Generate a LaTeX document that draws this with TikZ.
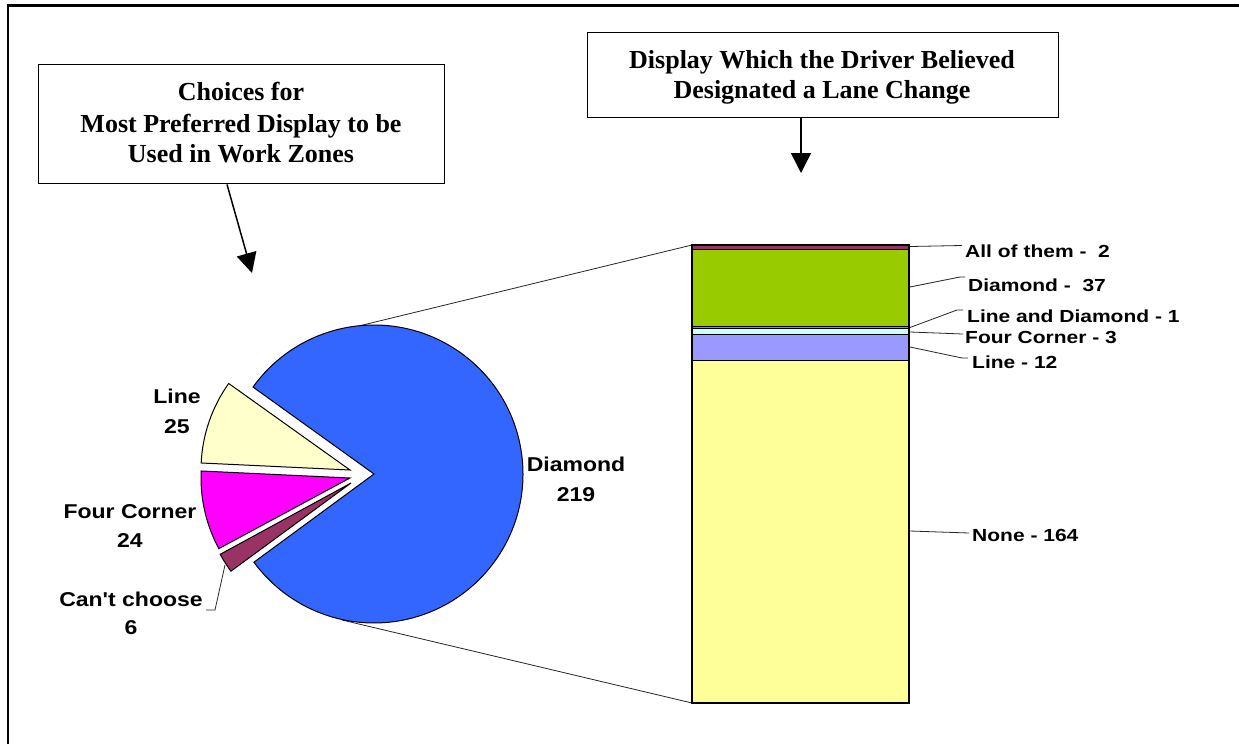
\documentclass[tikz,border=0pt]{standalone}
\usepackage{fontspec}
\setmainfont{Liberation Serif}
\setsansfont{Liberation Sans}
\usetikzlibrary{arrows.meta}
\definecolor{pieblue}{HTML}{3366FF}
\definecolor{pieyellow}{HTML}{FFFFCC}
\definecolor{piemagenta}{HTML}{FF00FF}
\definecolor{pieplum}{HTML}{993366}
\definecolor{bargreen}{HTML}{99CC00}
\definecolor{barcoral}{HTML}{E07070}
\definecolor{barcyan}{HTML}{CCFFFF}
\definecolor{barlilac}{HTML}{9999FF}
\definecolor{barpale}{HTML}{FFFF99}
\newcommand{\pl}[1]{\scalebox{1.15}[1]{#1}}
\newcommand{\bl}[1]{\scalebox{1.2}[1]{#1}}
\begin{document}
\begin{tikzpicture}[x=1pt,y=-1pt,
  titlebox/.style={draw, line width=1.4pt, fill=white, inner sep=0pt, anchor=north west},
  titletext/.style={font=\fontsize{26}{31}\selectfont\bfseries, anchor=base, inner sep=0pt},
  pielabel/.style={font=\fontsize{20}{24}\selectfont\sffamily\bfseries, anchor=base, inner sep=0pt},
  barlabel/.style={font=\fontsize{17.5}{21}\selectfont\sffamily\bfseries, anchor=base west, inner sep=0pt},
  leader/.style={line width=0.8pt, draw=black!85},
  slice/.style={draw=black, line width=1pt},
  seg/.style={draw=black, line width=1pt},
  callout/.style={line width=1.5pt, -{Triangle[length=20pt,width=20pt]}}]
\useasboundingbox (0,0) rectangle (1239,744);
\fill[white] (0,0) rectangle (1239,744);
% outer frame
\draw[line width=2.5pt] (8,744) -- (8,5.7) -- (1239,5.7);

% title boxes
\node[titlebox, minimum width=406pt, minimum height=119pt] (lbox) at (38,64) {};
\node[titletext] (lt1) at (241,100) {Choices for};
\node[titletext] (lt2) at (241,132) {Most Preferred Display to be};
\node[titletext] (lt3) at (241,162) {Used in Work Zones};
\node[titlebox, minimum width=471pt, minimum height=85pt] (rbox) at (587,32) {};
\node[titletext] (rt1) at (822,68) {Display Which the Driver Believed};
\node[titletext] (rt2) at (822,98) {Designated a Lane Change};

\coordinate (ltip) at (252,273);
\coordinate (rtip) at (801,173);
\draw[callout] (lbox.south -| 227,0) -- (ltip);
\draw[callout] (rbox.south -| 801,0) -- (rtip);

% connectors pie -> bar
\coordinate (pietop) at (360,325.7);
\coordinate (piebot) at (342,620);
\coordinate (bartl) at (692,245);
\coordinate (barbl) at (692,703);
\draw[leader] (pietop) -- (bartl);
\draw[leader] (piebot) -- (barbl);

% pie
\draw[slice, fill=pieblue] (374,474) -- ++(-144.3:149) arc[start angle=-144.3, end angle=143.7, radius=149] -- cycle;
\draw[slice, fill=pieyellow] (350,470) -- ++(-177.3:149) arc[start angle=-177.3, end angle=-144.5, radius=149] -- cycle;
\draw[slice, fill=piemagenta] (350,478) -- ++(-208.3:149) arc[start angle=-208.3, end angle=-177.3, radius=149] -- cycle;
\draw[slice, fill=pieplum] (351,483) -- ++(-216.3:149) arc[start angle=-216.3, end angle=-208.6, radius=149] -- cycle;

% pie labels
\node[pielabel] (pl1) at (177,403) {\pl{Line}};
\node[pielabel] (pl2) at (177,433) {\pl{25}};
\node[pielabel] (pf1) at (130,518) {\pl{Four Corner}};
\node[pielabel] (pf2) at (130,547) {\pl{24}};
\node[pielabel] (pc1) at (131,606) {\pl{Can\textquotesingle t choose}};
\node[pielabel] (pc2) at (131,634) {\pl{6}};
\node[pielabel] (pd1) at (576,471) {\pl{Diamond}};
\node[pielabel] (pd2) at (576,501) {\pl{219}};
\coordinate (cslice) at (225,565);
\coordinate (cbend) at (215,610);
\coordinate (cend) at (206,610);
\draw[leader] (cslice) -- (cbend) -- (cend);

% bar
\draw[seg, fill=barpale]  (692,360.0) rectangle (909,703);
\draw[seg, fill=barlilac] (692,334.9) rectangle (909,360.0);
\draw[seg, fill=barcyan]  (692,328.6) rectangle (909,334.9);
\draw[seg, fill=barcoral] (692,326.6) rectangle (909,328.6);
\draw[seg, fill=bargreen] (692,249.2) rectangle (909,326.6);
\draw[seg, fill=pieplum]  (692,245) rectangle (909,249.2);
\draw[line width=1.5pt] (bartl) rectangle (909,703);

% bar labels and leaders
\node[barlabel] (b1) at (965,257) {\bl{All of them -\ \ 2}};
\node[barlabel] (b2) at (968,291) {\bl{Diamond -\ \ 37}};
\node[barlabel] (b3) at (967,322) {\bl{Line and Diamond - 1}};
\node[barlabel] (b4) at (965,343) {\bl{Four Corner - 3}};
\node[barlabel] (b5) at (972,368) {\bl{Line - 12}};
\node[barlabel] (b6) at (972,541) {\bl{None - 164}};
\coordinate (s1) at (910,246.5);
\coordinate (s2) at (910,287);
\coordinate (s3) at (910,327.5);
\coordinate (s4) at (910,332);
\coordinate (s5) at (910,347);
\coordinate (s6) at (910,531);
\draw[leader] (s1) -- (962,245.5);
\draw[leader] (s2) -- (960,277) -- (965,277);
\draw[leader] (s3) -- (957,310) -- (963,310);
\draw[leader] (s4) -- (963,334);
\draw[leader] (s5) -- (962,358) -- (968,358);
\draw[leader] (s6) -- (969,533);
\end{tikzpicture}
\end{document}
